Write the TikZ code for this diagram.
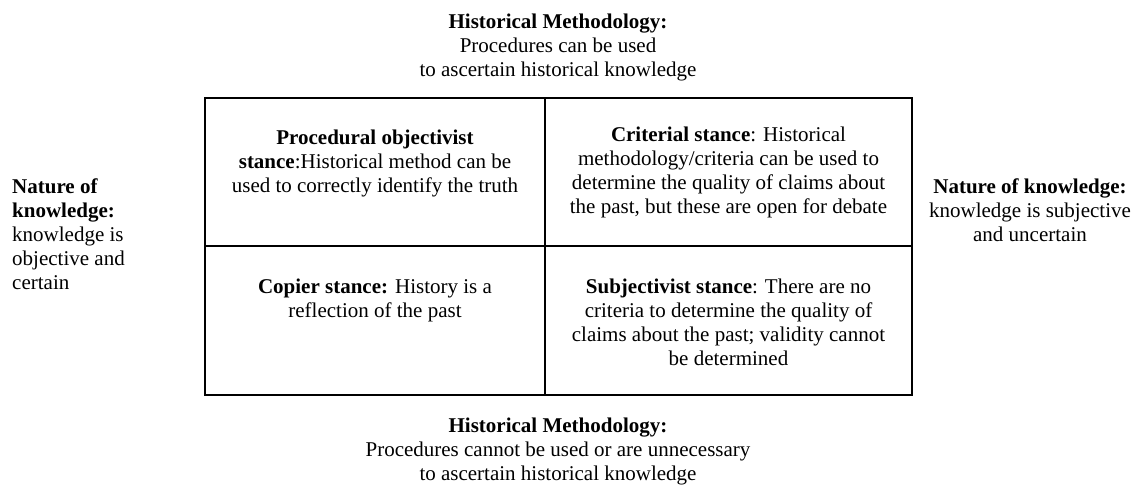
\documentclass[tikz,border=0pt]{standalone}
\usepackage{fontspec}
\setmainfont{Liberation Serif}
\newcommand{\fl}{\rule{0pt}{15pt}}
\begin{document}
\begin{tikzpicture}[x=1pt,y=-1pt,
  txt/.style={inner sep=0pt,align=center,anchor=north,font=\fontsize{21pt}{24pt}\selectfont},
  grid/.style={line width=2.2pt,line cap=rect}]
\useasboundingbox (0,0) rectangle (1141,485);
% table frame
\coordinate (tl) at (205,98);
\coordinate (br) at (912,395);
\coordinate (mt) at (545,98);
\coordinate (mb) at (545,395);
\coordinate (ml) at (205,246);
\coordinate (mr) at (912,246);
\draw[grid] (tl) rectangle (br);
\draw[grid] (mt) -- (mb);
\draw[grid] (ml) -- (mr);
% outer labels
\node[txt] (top) at (558,13) {\fl\textbf{Historical Methodology:}\\Procedures can be used\\to ascertain historical knowledge};
\node[txt] (bottom) at (558,417) {\fl\textbf{Historical Methodology:}\\Procedures cannot be used or are unnecessary\\to ascertain historical knowledge};
\node[txt,align=left,anchor=north west] (left) at (12,178) {\fl\textbf{Nature of}\\\textbf{knowledge:}\\knowledge is\\objective and\\certain};
\node[txt] (right) at (1030,178) {\fl\textbf{Nature of knowledge:}\\knowledge is subjective\\and uncertain};
% cells
\node[txt] (proc) at (375,129) {\fl\textbf{Procedural objectivist}\\\textbf{stance}:Historical method can be\\used to correctly identify the truth};
\node[txt] (crit) at (728.5,126) {\fl\textbf{Criterial stance}: Historical\\methodology/criteria can be used to\\determine the quality of claims about\\the past, but these are open for debate};
\node[txt] (copy) at (375,278) {\fl\textbf{Copier stance:} History is a\\reflection of the past};
\node[txt] (subj) at (728.5,278) {\fl\textbf{Subjectivist stance}: There are no\\criteria to determine the quality of\\claims about the past; validity cannot\\be determined};
\end{tikzpicture}
\end{document}
